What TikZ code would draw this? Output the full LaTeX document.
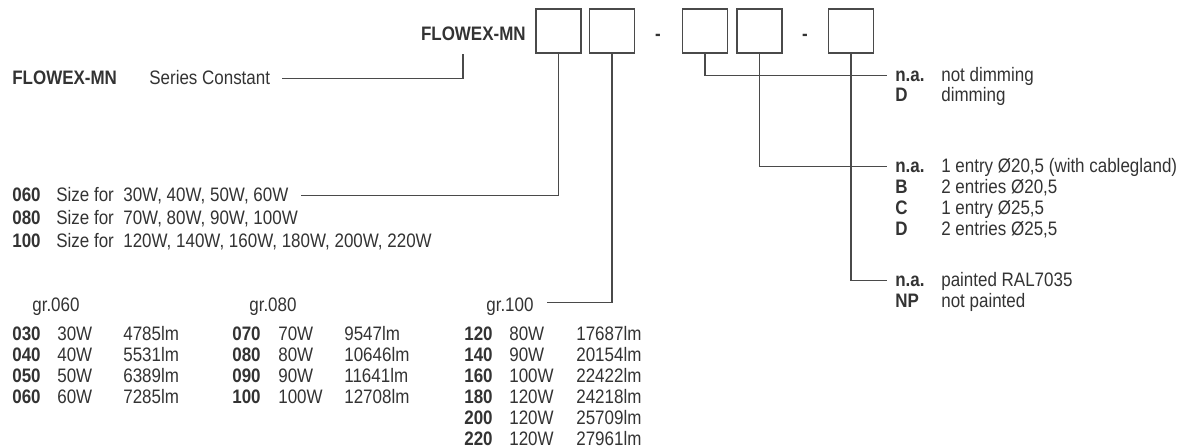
\documentclass[tikz,border=0pt]{standalone}
\usepackage{fontspec}
\setmainfont{Liberation Sans}[FakeStretch=0.87]
\definecolor{inkgray}{HTML}{333333}
\definecolor{linegray}{HTML}{4A4A4A}
\begin{document}
\fontsize{11.1}{13}\selectfont
\begin{tikzpicture}[x=0.02cm,y=-0.02cm,
  txt/.style={anchor=base west,inner sep=0pt,text=inkgray},
  lab/.style={txt,text height=7.6pt,text depth=0pt},
  codebox/.style={draw=linegray,line width=0.6pt,minimum width=0.9cm,minimum height=0.88cm,inner sep=0pt},
  wire/.style={draw=linegray,line width=0.6pt}]
 \useasboundingbox (0,0) rectangle (1200,448);
 \node[txt,anchor=base east] (hdr) at (526,41) {\textbf{FLOWEX-MN}};
 \node[codebox] (b1) at (558.5,31) {};
 \node[codebox] (b2) at (612,31) {};
 \node[txt,anchor=base] (d1) at (658,41) {\textbf{-}};
 \node[codebox] (b3) at (705,31) {};
 \node[codebox] (b4) at (759.5,31) {};
 \node[txt,anchor=base] (d2) at (805,41) {\textbf{-}};
 \node[codebox] (b5) at (851,31) {};
 \node[txt] (ser) at (12,85) {\textbf{FLOWEX-MN}};
 \node[lab] (serc) at (149,85) {Series Constant};
 \coordinate (hdrfoot) at (463,54);
 \draw[wire] ([xshift=0.24cm]serc.east) -| (hdrfoot);
 \foreach \c/\s [count=\i from 0] in {060/{30W, 40W, 50W, 60W},080/{70W, 80W, 90W, 100W},100/{120W, 140W, 160W, 180W, 200W, 220W}} {
  \node[txt] (sz\c) at (12,{202+23*\i}) {\textbf{\c}};
  \node[txt] (szf\c) at (56,{202+23*\i}) {Size for};
  \node[lab] (szw\c) at (123,{202+23*\i}) {\s};
 }
 \draw[wire] (b1.south) |- ([xshift=0.24cm]szw060.east);
 \node[lab] (gr060) at (32,312) {gr.060};
 \node[lab] (gr080) at (249,312) {gr.080};
 \node[lab] (gr100) at (486,312) {gr.100};
 \draw[wire] (b2.south) |- ([xshift=0.26cm,yshift=0.06cm]gr100.east);
 \foreach \c/\w/\l [count=\i from 0] in {030/30W/4785lm,040/40W/5531lm,050/50W/6389lm,060/60W/7285lm} {
  \node[txt] (c\c) at (12,{341+21*\i}) {\textbf{\c}};
  \node[txt] (w\c) at (57,{341+21*\i}) {\w};
  \node[txt] (l\c) at (123,{341+21*\i}) {\l};
 }
 \foreach \c/\w/\l [count=\i from 0] in {070/70W/9547lm,080/80W/10646lm,090/90W/11641lm,100/100W/12708lm} {
  \node[txt] (c\c) at (232,{341+21*\i}) {\textbf{\c}};
  \node[txt] (w\c) at (278,{341+21*\i}) {\w};
  \node[txt] (l\c) at (344,{341+21*\i}) {\l};
 }
 \foreach \c/\w/\l [count=\i from 0] in {120/80W/17687lm,140/90W/20154lm,160/100W/22422lm,180/120W/24218lm,200/120W/25709lm,220/120W/27961lm} {
  \node[txt] (c\c) at (464,{341+21*\i}) {\textbf{\c}};
  \node[txt] (w\c) at (509,{341+21*\i}) {\w};
  \node[txt] (l\c) at (576,{341+21*\i}) {\l};
 }
 \node[lab] (dimna) at (895,82) {\textbf{n.a.}};
 \node[txt] (dimnat) at (941,82) {not dimming};
 \node[txt] (dimd) at (895,102) {\textbf{D}};
 \node[txt] (dimdt) at (941,102) {dimming};
 \draw[wire] (b3.south) |- ([xshift=-0.16cm]dimna.west);
 \foreach \k/\t [count=\i from 0] in {n.a./{1 entry Ø20,5 (with cablegland)},B/{2 entries Ø20,5},C/{1 entry Ø25,5},D/{2 entries Ø25,5}} {
  \node[lab] (ent\i) at (895,{173+21*\i}) {\textbf{\k}};
  \node[txt] (entt\i) at (941,{173+21*\i}) {\t};
 }
 \draw[wire] (b4.south) |- ([xshift=-0.16cm]ent0.west);
 \node[lab] (pna) at (895,287) {\textbf{n.a.}};
 \node[txt] (pnat) at (941,287) {painted RAL7035};
 \node[txt] (pnp) at (895,308) {\textbf{NP}};
 \node[txt] (pnpt) at (941,308) {not painted};
 \draw[wire] (b5.south) |- ([xshift=-0.16cm]pna.west);
\end{tikzpicture}
\end{document}
